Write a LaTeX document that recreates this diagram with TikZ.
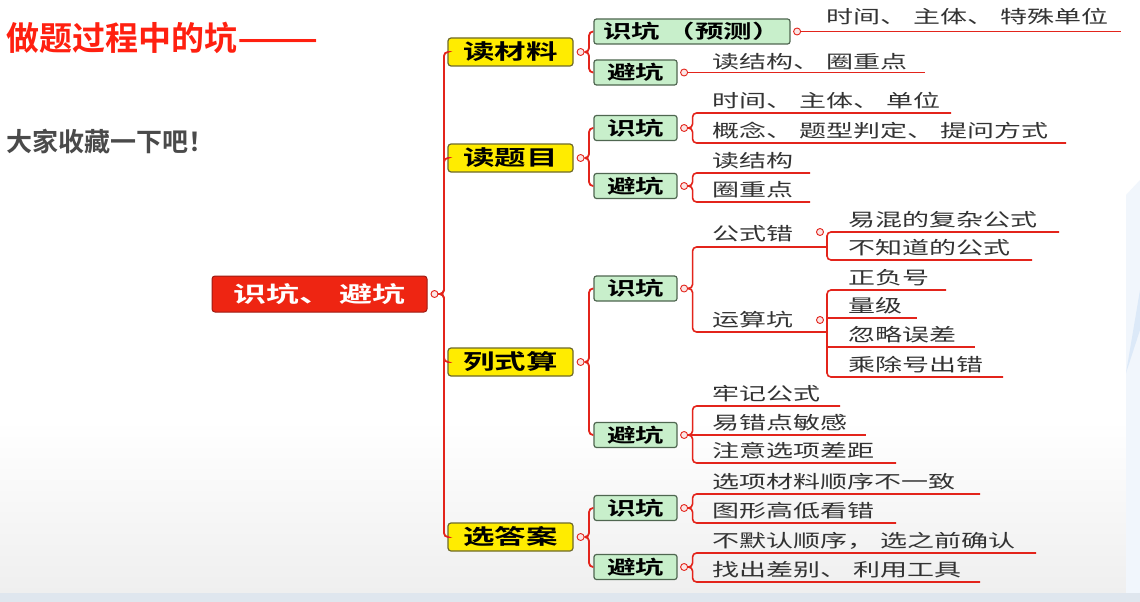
\documentclass[tikz,border=0pt]{standalone}
\usepackage{fontspec}
\usepackage{graphicx}
\newfontfamily\cjk{Noto Sans CJK SC}[BoldFont={* Bold}]
\newfontfamily\cjkw{Noto Sans CJK SC}[FakeStretch=1.5,BoldFont={* Bold}]
\definecolor{linkred}{HTML}{E3241B}
\definecolor{dotfill}{HTML}{FBE6E6}
\definecolor{rootred}{HTML}{EE2512}
\definecolor{rootborder}{HTML}{9E1B12}
\definecolor{yfill}{HTML}{FFEC00}
\definecolor{yborder}{HTML}{6E6A2A}
\definecolor{gfill}{HTML}{C8EFCB}
\definecolor{gborder}{HTML}{4F6650}
\definecolor{leafgray}{HTML}{333333}
\definecolor{titlered}{HTML}{FF2010}
\definecolor{subgray}{HTML}{4A4A4A}
\definecolor{bggray}{HTML}{EFEFEF}
\definecolor{bandblue}{HTML}{DFE6EE}
\definecolor{decoblue}{HTML}{F1F6FC}
\definecolor{decoblue2}{HTML}{DCE9F8}
\tikzset{
  link/.style={draw=linkred,line width=1.8pt,rounded corners=4pt},
  uline/.style={draw=linkred,line width=1.6pt,rounded corners=4pt},
  dot/.style={circle,draw=linkred,fill=dotfill,line width=0.9pt,inner sep=0pt,minimum size=7pt},
  rootbox/.style={draw=rootborder,fill=rootred,line width=1pt,rounded corners=3pt,minimum width=215pt,minimum height=36pt,inner sep=0pt,text=white,font=\cjkw\bfseries\fontsize{22pt}{24pt}\selectfont},
  ybox/.style={draw=yborder,fill=yfill,line width=1.2pt,rounded corners=3pt,minimum width=125pt,minimum height=28pt,inner sep=0pt,font=\cjkw\bfseries\fontsize{21pt}{24pt}\selectfont},
  gbox/.style={draw=gborder,fill=gfill,line width=1.2pt,rounded corners=2.5pt,minimum width=83pt,minimum height=25pt,inner sep=0pt,font=\cjkw\bfseries\fontsize{19pt}{22pt}\selectfont},
  leaf/.style={anchor=base west,inner sep=0pt,text=leafgray,font=\cjkw\fontsize{18pt}{20pt}\selectfont},
  heading/.style={anchor=base west,inner sep=0pt}
}
\begin{document}
\begin{tikzpicture}[x=1pt,y=-1pt]
\useasboundingbox (0,0) rectangle (1140,602);
% background
\fill[white] (0,0) rectangle (1140,602);
\shade[top color=white,bottom color=bggray] (0,420) rectangle (1140,593);
\fill[decoblue] (1126,195) -- (1140,180) -- (1140,593) -- (1126,593) -- cycle;
\fill[decoblue2] (1126,373) -- (1140,290) -- (1140,330) -- cycle;
\fill[bandblue] (0,593) rectangle (1140,602);
% headings
\node[heading,text=titlered,font=\cjk\bfseries\fontsize{33pt}{36pt}\selectfont] (title) at (6,50.5) {做题过程中的坑\scalebox{1.45}[1]{——}};
\node[heading,text=subgray,font=\cjk\bfseries\fontsize{26pt}{28pt}\selectfont] (sub) at (6,151) {大家收藏一下吧！};
% root
\node[rootbox] (root) at (319.5,294) {识坑、 避坑};
\node[dot] (d0) at ([xshift=7pt]root.east) {};
% level 1
\node[ybox] (y1) at (510.5,52) {读材料};
\node[ybox] (y2) at (510.5,158) {读题目};
\node[ybox] (y3) at (510.5,362) {列式算};
\node[ybox] (y4) at (510.5,537) {选答案};
\foreach \t in {y1,y2,y3,y4}{
  \draw[link] (d0.east) -- ++(5.5,0) |- (\t.west);
  \node[dot] (d\t) at ([xshift=7pt]\t.east) {};
}
% level 2
\node[gbox,minimum width=196pt] (g11) at (692,31.5) {识坑 （预测）};
\node[gbox] (g12) at (635.5,72.5) {避坑};
\node[gbox] (g21) at (635.5,128) {识坑};
\node[gbox] (g22) at (635.5,186) {避坑};
\node[gbox] (g31) at (635.5,288.5) {识坑};
\node[gbox] (g32) at (635.5,435) {避坑};
\node[gbox] (g41) at (635.5,508) {识坑};
\node[gbox] (g42) at (635.5,567) {避坑};
\foreach \p/\c in {y1/g11,y1/g12,y2/g21,y2/g22,y3/g31,y3/g32,y4/g41,y4/g42}{
  \draw[link] (d\p.east) -- ++(4.5,0) |- (\c.west);
  \node[dot] (d\c) at ([xshift=6.5pt]\c.east) {};
}
% leaf end points
\coordinate (e1) at (1121,31.5);
\coordinate (e2) at (925,72.5);
\coordinate (e3) at (951,113);
\coordinate (e4) at (1066,143);
\coordinate (e5) at (810,173);
\coordinate (e6) at (810,202);
\coordinate (e7) at (827,247);
\coordinate (e8) at (827,332);
\coordinate (e9) at (840,406);
\coordinate (e10) at (866,435);
\coordinate (e11) at (896,463);
\coordinate (e12) at (980,494);
\coordinate (e13) at (896,523);
\coordinate (e14) at (1036,553);
\coordinate (e15) at (980,582);
\coordinate (e16) at (1059,232);
\coordinate (e17) at (1032,260);
\coordinate (e18) at (946,290);
\coordinate (e19) at (917,318);
\coordinate (e20) at (975,347);
\coordinate (e21) at (1003,377);
% connectors to leaves
\draw[uline] (dg11.east) -- (e1);
\draw[uline] (dg12.east) -- (e2);
\draw[uline] (dg21.east) -- ++(4.5,0) |- (e3);
\draw[uline] (dg21.east) -- ++(4.5,0) |- (e4);
\draw[uline] (dg22.east) -- ++(4.5,0) |- (e5);
\draw[uline] (dg22.east) -- ++(4.5,0) |- (e6);
\draw[uline] (dg31.east) -- ++(4.5,0) |- (e7);
\draw[uline] (dg31.east) -- ++(4.5,0) |- (e8);
\draw[uline] (e16) -| (e7) |- (e17);
\draw[uline] (e18) -| (e8) |- (e21);
\draw[uline] (e8 |- e19) -- (e19);
\draw[uline] (e8 |- e20) -- (e20);
\draw[uline] (dg32.east) -- ++(4.5,0) |- (e9);
\draw[uline] (dg32.east) -- (e10);
\draw[uline] (dg32.east) -- ++(4.5,0) |- (e11);
\draw[uline] (dg41.east) -- ++(4.5,0) |- (e12);
\draw[uline] (dg41.east) -- ++(4.5,0) |- (e13);
\draw[uline] (dg42.east) -- ++(4.5,0) |- (e14);
\draw[uline] (dg42.east) -- ++(4.5,0) |- (e15);
% leaf texts
\node[leaf] (t1) at (826,24) {时间、 主体、 特殊单位};
\node[leaf] (t2) at (712,68) {读结构、 圈重点};
\node[leaf] (t3) at (712,107.5) {时间、 主体、 单位};
\node[leaf] (t4) at (712,137.5) {概念、 题型判定、 提问方式};
\node[leaf] (t5) at (712,167.5) {读结构};
\node[leaf] (t6) at (712,196.5) {圈重点};
\node[leaf] (t7) at (712,240.5) {公式错};
\node[leaf] (t8) at (712,326.5) {运算坑};
\node[dot] (dt7) at (820,232) {};
\node[dot] (dt8) at (820,320) {};
\node[leaf] (t16) at (848,226.5) {易混的复杂公式};
\node[leaf] (t17) at (848,254.5) {不知道的公式};
\node[leaf] (t18) at (848,284.5) {正负号};
\node[leaf] (t19) at (848,312.5) {量级};
\node[leaf] (t20) at (848,341.5) {忽略误差};
\node[leaf] (t21) at (848,371.5) {乘除号出错};
\node[leaf] (t9) at (712,400.5) {牢记公式};
\node[leaf] (t10) at (712,429.5) {易错点敏感};
\node[leaf] (t11) at (712,457.5) {注意选项差距};
\node[leaf] (t12) at (712,488.5) {选项材料顺序不一致};
\node[leaf] (t13) at (712,517.5) {图形高低看错};
\node[leaf] (t14) at (712,547.5) {不默认顺序， 选之前确认};
\node[leaf] (t15) at (712,576.5) {找出差别、 利用工具};
\end{tikzpicture}
\end{document}
